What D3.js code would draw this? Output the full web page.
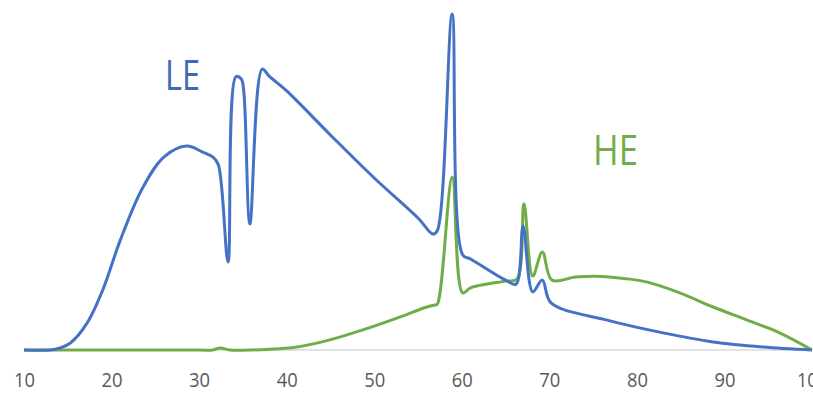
<!DOCTYPE html>
<html>
<head>
<meta charset="utf-8">
<script src="https://cdn.jsdelivr.net/npm/d3@7"></script>
<style>
  body { margin: 0; background: #fff; }
  svg { display: block; }
</style>
</head>
<body>
<svg id="chart" width="813" height="393"></svg>
<script>
// tick labels on the x axis
let xTicks = [10, 20, 30, 40, 50, 60, 70, 80, 90, 100];

// LE curve (x, relative intensity)
let leX = [10, 13, 14.1, 15.3, 17.2, 19, 21, 23.5, 26, 28.6, 30.4, 31.6, 32.2, 33.3, 34.2, 34.8, 35.1, 35.8, 37.2, 38, 40, 45, 50, 55, 56.7, 57.2, 58.9, 60.1, 61, 65, 66.2, 67, 68.1, 69.2, 70.2, 76.6, 83, 88.7, 94.4, 100];
let leY = [0, 0, 0.6, 2.1, 8, 17.9, 32.7, 48, 57.5, 60.7, 58.9, 57.4, 55.1, 26.2, 81.3, 80.7, 77, 37.5, 83.6, 81.5, 77.1, 64, 51.2, 39.3, 34.5, 35.5, 100, 28.3, 27.1, 20.8, 19.6, 36.9, 17.3, 20.8, 14, 8.9, 5.1, 2.4, 0.9, 0];

// HE curve
let heX = [10, 30, 31.5, 32.4, 33.5, 36, 41.2, 44.9, 48.7, 52.6, 56, 56.9, 57.2, 58.9, 60.1, 61, 65, 66.3, 67.1, 68.1, 69.2, 70.3, 73, 76, 78.5, 81.2, 84.9, 88.7, 92.6, 96.3, 100];
let heY = [0, 0, 0, 0.6, 0, 0, 0.9, 3, 6, 9.5, 12.8, 13.4, 13.6, 51.5, 17, 18.5, 20.5, 21.1, 43.5, 22, 29.2, 20.8, 21.7, 21.9, 21.3, 20.2, 17, 12.8, 8.9, 5.1, 0];

let seriesNames = ["LE", "HE"];

let svg = d3.select("#chart");

let xScale = d3.scaleLinear().domain([10, 100]).range([24, 812]);
let yScale = d3.scaleLinear().domain([0, 100]).range([350, 14]);

// baseline
svg.append("line")
  .attr("x1", xScale(10)).attr("x2", xScale(100))
  .attr("y1", yScale(0)).attr("y2", yScale(0))
  .attr("stroke", "#d9d9d9")
  .attr("stroke-width", 1.5);

// x axis labels
let xAxis = svg.append("g")
  .attr("transform", "translate(0," + yScale(0) + ")")
  .call(d3.axisBottom(xScale).tickValues(xTicks).tickSize(0).tickFormat(d3.format("d")));
xAxis.select(".domain").remove();
xAxis.selectAll("text")
  .attr("y", 37)
  .attr("dy", 0)
  .attr("fill", "#595959")
  .style("font-family", "'Open Sans', sans-serif")
  .style("font-size", "20px")
  .attr("textLength", d => d === 100 ? 31 : 21)
  .attr("lengthAdjust", "spacingAndGlyphs");

let lineGen = d3.line()
  .x(d => xScale(d[0]))
  .y(d => yScale(d[1]))
  .curve(d3.curveCatmullRom.alpha(0.5));

let heData = heX.map((x, i) => [x, heY[i]]);
let leData = leX.map((x, i) => [x, leY[i]]);

svg.append("path")
  .attr("d", lineGen(heData))
  .attr("fill", "none")
  .attr("stroke", "#70AD47")
  .attr("stroke-width", 3)
  .attr("stroke-linejoin", "round");

svg.append("path")
  .attr("d", lineGen(leData))
  .attr("fill", "none")
  .attr("stroke", "#4472C4")
  .attr("stroke-width", 3)
  .attr("stroke-linejoin", "round");

// series labels
svg.append("text")
  .attr("x", 165).attr("y", 90)
  .attr("fill", "#4068B8")
  .style("font-family", "'Open Sans', sans-serif")
  .style("font-size", "42px")
  .attr("textLength", 35)
  .attr("lengthAdjust", "spacingAndGlyphs")
  .text(seriesNames[0]);

svg.append("text")
  .attr("x", 593).attr("y", 165)
  .attr("fill", "#70AD47")
  .style("font-family", "'Open Sans', sans-serif")
  .style("font-size", "42px")
  .attr("textLength", 45)
  .attr("lengthAdjust", "spacingAndGlyphs")
  .text(seriesNames[1]);
</script>
</body>
</html>
